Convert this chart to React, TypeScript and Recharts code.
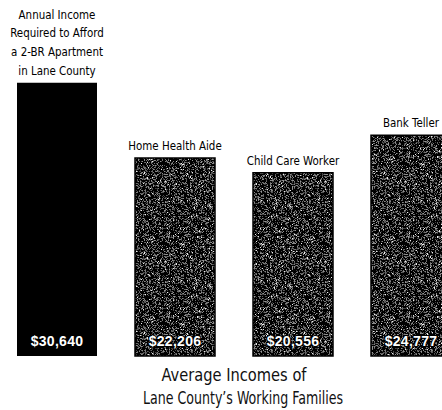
import React from "react";
import { BarChart, Bar, XAxis, YAxis, Cell, LabelList } from "recharts";

// Category headings (line breaks split multi-line headings)
const categories = [
  "Annual Income\nRequired to Afford\na 2-BR Apartment\nin Lane County",
  "Home Health Aide",
  "Child Care Worker",
  "Bank Teller",
];
// Annual incomes in dollars
const incomes = [30640, 22206, 20556, 24777];
const captionLines = ["Average Incomes of", "Lane County\u2019s Working Families"];

const data = categories.map((name, i) => ({ name, value: incomes[i] }));

const NARROW = "'Liberation Sans Narrow', 'DejaVu Sans Condensed', 'Arial Narrow', sans-serif";
const TILE = 80;

// Speckled halftone tile used to fill the occupation bars
function makeSpeckles(size: number, seed: number) {
  let s = seed >>> 0;
  const rnd = () => {
    s = (Math.imul(s, 1664525) + 1013904223) >>> 0;
    return s / 4294967296;
  };
  const dots: { x: number; y: number; c: string }[] = [];
  for (let y = 0; y < size; y++) {
    for (let x = 0; x < size; x++) {
      const r = rnd();
      if (r < 0.4) {
        const t = rnd();
        const g = t > 0.95 ? 235 : Math.round(50 + t * 110);
        dots.push({ x, y, c: `rgb(${g},${g},${g})` });
      }
    }
  }
  return dots;
}
const speckles = makeSpeckles(TILE, 12345);

const HeadingLabel = (props: any) => {
  const { x, y, width, index } = props;
  const lines = categories[index].split("\n");
  const cx = x + width / 2;
  const lineH = 18.7;
  const bottom = y - 8;
  return (
    <g transform={`translate(${cx},${bottom}) scale(0.88,1)`}>
      <text textAnchor="middle" fontFamily={NARROW} fontSize={13} fill="#000">
        {lines.map((ln, i) => (
          <tspan key={i} x={0} y={-(lines.length - 1 - i) * lineH}>
            {ln}
          </tspan>
        ))}
      </text>
    </g>
  );
};

const ValueLabel = (props: any) => {
  const { x, y, width, height, value } = props;
  return (
    <text
      x={x + width / 2}
      y={y + height - 10}
      textAnchor="middle"
      fontFamily="'Liberation Sans', Arial, sans-serif"
      fontWeight="bold"
      fontSize={14}
      letterSpacing={0.3}
      fill="#fff"
      stroke="#000"
      strokeWidth={2}
      paintOrder="stroke"
    >
      {"$" + Number(value).toLocaleString("en-US")}
    </text>
  );
};

export default function App() {
  return (
    <div
      style={{
        position: "fixed",
        left: 0,
        top: 0,
        width: 442,
        height: 410,
        overflow: "hidden",
        background: "#fff",
      }}
    >
      <div style={{ position: "absolute", left: -2, top: 0 }}>
        <BarChart
          width={472}
          height={410}
          data={data}
          margin={{ top: 44, right: 0, bottom: 54, left: 0 }}
        >
          <defs>
            <pattern id="speckle" width={TILE} height={TILE} patternUnits="userSpaceOnUse">
              <rect width={TILE} height={TILE} fill="#000" />
              {speckles.map((d, i) => (
                <rect key={i} x={d.x} y={d.y} width={1} height={1} fill={d.c} />
              ))}
            </pattern>
          </defs>
          <XAxis dataKey="name" hide />
          <YAxis hide domain={[0, 35000]} />
          <Bar dataKey="value" barSize={80} isAnimationActive={false}>
            {data.map((d, i) => (
              <Cell
                key={i}
                fill={i === 0 ? "#000" : "url(#speckle)"}
                stroke="#000"
                strokeWidth={i === 0 ? 0 : 1.5}
              />
            ))}
            <LabelList dataKey="value" content={<HeadingLabel />} />
            <LabelList dataKey="value" content={<ValueLabel />} />
          </Bar>
        </BarChart>
      </div>
      <svg
        width={442}
        height={410}
        style={{ position: "absolute", left: 0, top: 0, pointerEvents: "none" }}
      >
        <text
          x={234}
          y={381}
          textAnchor="middle"
          fontFamily={NARROW}
          fontSize={18}
          fill="#111"
          textLength={145}
          lengthAdjust="spacingAndGlyphs"
        >
          {captionLines[0]}
        </text>
        <text
          x={243}
          y={404}
          textAnchor="middle"
          fontFamily={NARROW}
          fontSize={18}
          fill="#111"
          textLength={200}
          lengthAdjust="spacingAndGlyphs"
        >
          {captionLines[1]}
        </text>
      </svg>
    </div>
  );
}
